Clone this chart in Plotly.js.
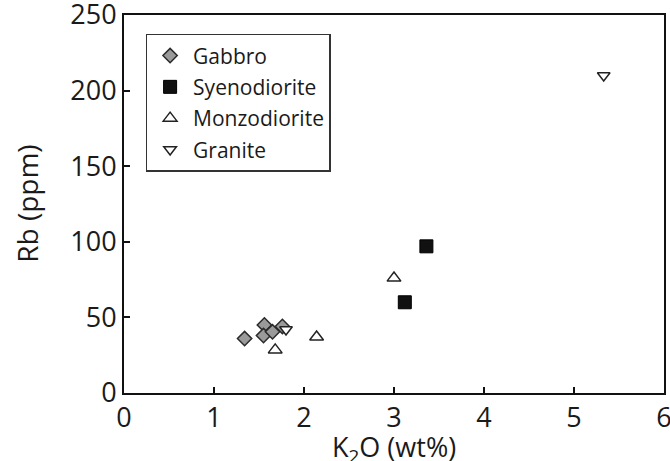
<!DOCTYPE html>
<html>
<head>
<meta charset="utf-8">
<script src="https://cdn.plot.ly/plotly-3.0.1.min.js"></script>
<style>html,body{margin:0;padding:0;background:#fff;}#chart{width:670px;height:461px;}</style>
</head>
<body>
<div id="chart"></div>
<script>
// Data: K2O (wt%) vs Rb (ppm)
const gabbroK2O = [1.34, 1.56, 1.55, 1.65, 1.76];
const gabbroRb  = [36, 45, 38, 40.5, 44];
const syenoK2O = [3.36, 3.12];
const syenoRb  = [97, 60];
const monzoK2O = [1.68, 2.14, 3.0];
const monzoRb  = [28.5, 37, 76];
const graniteK2O = [1.8, 5.33];
const graniteRb  = [42, 210];
const seriesNames = ["Gabbro", "Syenodiorite", "Monzodiorite", "Granite"];
const xTicks = [0, 1, 2, 3, 4, 5, 6];
const yTicks = [0, 50, 100, 150, 200, 250];
const xTitle = "K<sub>2</sub>O (wt%)";
const yTitle = "Rb (ppm)";

const font = "'Open Sans', 'Noto Sans', sans-serif";

const traces = [
  {x: gabbroK2O, y: gabbroRb, name: seriesNames[0], legendgroup: "a", mode: "markers", type: "scatter",
   marker: {symbol: "diamond", size: 11, color: "#9a9a9a", line: {color: "#2a2a2a", width: 1.5}}},
  {x: syenoK2O, y: syenoRb, name: seriesNames[1], legendgroup: "b", mode: "markers", type: "scatter",
   marker: {symbol: "square", size: 13, color: "#111", line: {color: "#000", width: 1}}},
  {x: monzoK2O, y: monzoRb, name: seriesNames[2], legendgroup: "c", mode: "markers", type: "scatter",
   marker: {symbol: "triangle-up", size: 12, color: "#fff", line: {color: "#222", width: 1.5}}},
  {x: graniteK2O, y: graniteRb, name: seriesNames[3], legendgroup: "d", mode: "markers", type: "scatter",
   marker: {symbol: "triangle-down", size: 11, color: "#fff", line: {color: "#222", width: 1.5}}}
];

const layout = {
  width: 670, height: 461,
  margin: {l: 124, r: 6, t: 15, b: 68, autoexpand: false},
  paper_bgcolor: "#fff", plot_bgcolor: "#fff",
  font: {family: font, color: "#1a1a1a", size: 27},
  showlegend: true,
  legend: {
    x: 0.04, y: 0.95, xanchor: "left", yanchor: "top",
    bordercolor: "#333", borderwidth: 1.5, bgcolor: "#fff",
    font: {family: font, size: 21, color: "#1a1a1a"},
    tracegroupgap: 1, itemwidth: 36
  },
  xaxis: {
    range: [0, 6], tickvals: xTicks, ticktext: xTicks.map(String),
    showgrid: false, zeroline: false, showline: true, mirror: true,
    linecolor: "#111", linewidth: 2, ticks: "inside", ticklen: 6, tickwidth: 2, tickcolor: "#111",
    ticklabeloverflow: "allow", automargin: false,
    tickfont: {family: font, size: 27}
  },
  yaxis: {
    range: [0, 250], tickvals: yTicks, ticktext: yTicks.map(String),
    showgrid: false, zeroline: false, showline: true, mirror: true,
    linecolor: "#111", linewidth: 2, ticks: "inside", ticklen: 6, tickwidth: 2, tickcolor: "#111",
    ticklabeloverflow: "allow", automargin: false,
    tickfont: {family: font, size: 27}
  },
  annotations: [
    {text: xTitle, xref: "paper", yref: "paper", x: 0.5, y: -0.146, xanchor: "center", yanchor: "middle",
     showarrow: false, font: {family: font, size: 27, color: "#1a1a1a"}},
    {text: yTitle, xref: "paper", yref: "paper", x: -0.18, y: 0.5, xanchor: "center", yanchor: "middle",
     textangle: -90, showarrow: false, font: {family: font, size: 28, color: "#1a1a1a"}}
  ]
};

Plotly.newPlot("chart", traces, layout, {displayModeBar: false, staticPlot: true});
</script>
</body>
</html>
